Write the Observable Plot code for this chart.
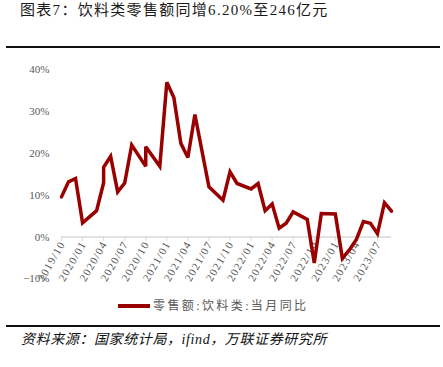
<!DOCTYPE html>
<html><head><meta charset="utf-8">
<script src="https://cdn.jsdelivr.net/npm/d3@7"></script>
<script src="https://cdn.jsdelivr.net/npm/@observablehq/plot@0.6"></script>
<style>
html,body{margin:0;padding:0;background:#fff;}
body{width:443px;height:367px;position:relative;overflow:hidden;font-family:"Liberation Serif","Noto Sans CJK SC",serif;}
#title{position:absolute;left:20px;top:3px;font-size:15px;line-height:15px;color:#1a1a1a;letter-spacing:1.3px;white-space:nowrap;}
.rule{position:absolute;left:6px;width:434px;height:2px;background:#111;}
#chart{position:absolute;left:0;top:50px;}
#legend{position:absolute;top:299px;left:118px;white-space:nowrap;font-size:12px;line-height:14px;color:#595959;letter-spacing:2.4px;}
#legend .sw{display:inline-block;width:32px;height:4px;background:#990000;vertical-align:middle;margin-right:3px;position:relative;top:-1px;}
#source{position:absolute;left:21px;top:332px;font-style:italic;font-size:14px;line-height:16px;color:#111;letter-spacing:0.6px;white-space:nowrap;}
</style>
</head><body>
<div id="title">图表7：饮料类零售额同增6.20%至246亿元</div>
<div class="rule" style="top:46px"></div>
<div id="chart"></div>
<div id="legend"><span class="sw"></span>零售额:饮料类:当月同比</div>
<div class="rule" style="top:325px"></div>
<div id="source">资料来源：国家统计局，ifind，万联证券研究所</div>
<script>
// Month labels of each drawn vertex (some months appear twice in the source series)
const dates = ["2019/10","2019/11","2019/12","2020/01","2020/03","2020/04","2020/04","2020/05","2020/06","2020/07","2020/08","2020/10","2020/10","2020/12","2021/01","2021/02","2021/03","2021/04","2021/05","2021/07","2021/09","2021/10","2021/11","2022/01","2022/02","2022/03","2022/04","2022/05","2022/06","2022/07","2022/09","2022/10","2022/11","2023/01","2023/02","2023/03","2023/04","2023/05","2023/06","2023/07","2023/08","2023/09"];
// 零售额:饮料类:当月同比 (%)
const values = [9.6,13.2,14.0,3.4,6.3,13.0,16.7,19.3,10.8,12.9,22.0,16.9,21.6,16.9,37.0,33.4,22.4,19.0,29.3,12.0,8.8,15.6,12.8,11.5,12.8,6.3,7.9,2.1,3.3,6.0,4.2,-6.2,5.6,5.5,-5.1,-3.1,-0.6,3.7,3.3,0.8,8.2,6.2];
const tickLabels = ["2019/10","2020/01","2020/04","2020/07","2020/10","2021/01","2021/04","2021/07","2021/10","2022/01","2022/04","2022/07","2022/10","2023/01","2023/04","2023/07"];
const yTicks = [-10,0,10,20,30,40];
const firstMonth = "2019/10", lastMonth = "2023/09";

const mi = s => { const [y,m] = s.split("/").map(Number); const [y0,m0] = firstMonth.split("/").map(Number); return (y-y0)*12 + (m-m0); };
const data = dates.map((d,i)=>({m: mi(d), v: values[i]}));
const ticks = tickLabels.map(t => ({m: mi(t), label: t}));
const xEnd = mi(lastMonth);
const serif = '"Liberation Serif","Noto Sans CJK SC",serif';

const chart = Plot.plot({
  width: 443, height: 245,
  marginLeft: 61, marginRight: 52, marginTop: 19.3, marginBottom: 16.7,
  x: {type: "linear", domain: [0, xEnd], axis: null},
  y: {domain: [-10, 40], ticks: yTicks, tickFormat: d => (d < 0 ? "−" : "") + Math.abs(d) + "%", tickSize: 0, tickPadding: 12, label: null},
  style: {fontFamily: serif, fontSize: "11px", color: "#595959", background: "transparent", overflow: "visible"},
  marks: [
    Plot.ruleY([0], {x1: 0, x2: xEnd, stroke: "#d9d9d9", strokeWidth: 1.5}),
    Plot.ruleX(ticks, {x: "m", y1: 0, y2: -1.1, stroke: "#d9d9d9"}),
    Plot.text(ticks, {x: "m", y: 0, text: "label", rotate: -60, textAnchor: "end", dy: 5, dx: 1, fill: "#595959", fontSize: 11, fontFamily: serif}),
    Plot.lineY(data, {x: "m", y: "v", stroke: "#990000", strokeWidth: 3.5, strokeLinejoin: "miter", strokeMiterlimit: 3})
  ]
});
chart.querySelectorAll("text").forEach(t => { if (t.textContent.includes("/")) t.style.letterSpacing = "1.2px"; });
document.getElementById("chart").appendChild(chart);
</script>
</body></html>
